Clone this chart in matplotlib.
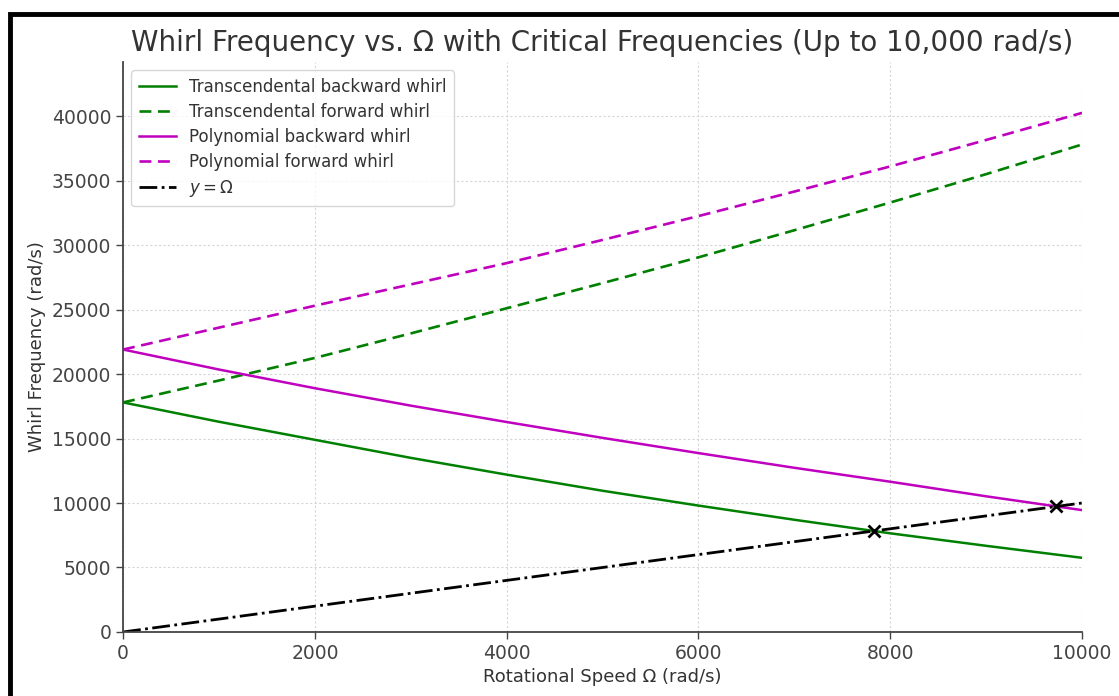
import matplotlib.pyplot as plt
from matplotlib.patches import Rectangle

# ============================================================
# Data
# ============================================================

omega = [0, 1000, 2000, 3000, 4000, 5000, 6000, 7000, 8000, 9000, 10000]

trans_backward = [17800, 16300, 14900, 13500, 12200, 10950, 9800, 8700, 7650, 6680, 5750]
trans_forward = [17800, 19500, 21250, 23150, 25100, 27050, 29050, 31150, 33300, 35500, 37800]
poly_backward = [21900, 20350, 18900, 17550, 16280, 15050, 13870, 12730, 11650, 10520, 9450]
poly_forward = [21900, 23600, 25300, 26950, 28600, 30400, 32250, 34150, 36100, 38150, 40250]

line_x = [0, 10000]
line_y = [0, 10000]

critical_omega = [7830, 9730]
critical_freq = [7830, 9730]

x_ticks = [0, 2000, 4000, 6000, 8000, 10000]
y_ticks = [0, 5000, 10000, 15000, 20000, 25000, 30000, 35000, 40000]

# ============================================================
# Figure
# ============================================================

text_color = "#333333"
plt.rcParams["text.color"] = text_color
plt.rcParams["axes.labelcolor"] = text_color
plt.rcParams["xtick.color"] = "#444444"
plt.rcParams["ytick.color"] = "#444444"

fig = plt.figure(figsize=(11.19, 6.96), dpi=100)
ax = fig.add_axes([0.110, 0.092, 0.857, 0.819])

ax.plot(omega, trans_backward, color="g", linestyle="-", linewidth=1.8,
        label="Transcendental backward whirl")
ax.plot(omega, trans_forward, color="g", linestyle=(0, (4.5, 2.5)), linewidth=1.9,
        label="Transcendental forward whirl")
ax.plot(omega, poly_backward, color="m", linestyle="-", linewidth=1.8,
        label="Polynomial backward whirl")
ax.plot(omega, poly_forward, color="m", linestyle=(0, (4.5, 2.5)), linewidth=1.9,
        label="Polynomial forward whirl")
ax.plot(line_x, line_y, color="k", linestyle="-.", linewidth=2,
        label=r"$y = \Omega$")
ax.plot(critical_omega, critical_freq, "kx", markersize=9, markeredgewidth=2)

ax.set_xlim(0, 10000)
ax.set_ylim(0, 44200)
ax.set_xticks(x_ticks)
ax.set_yticks(y_ticks)
ax.tick_params(labelsize=13.5, length=5, width=1)

ax.set_title("Whirl Frequency vs. Ω with Critical Frequencies (Up to 10,000 rad/s)",
             fontsize=20, pad=8)
ax.set_xlabel("Rotational Speed Ω (rad/s)", fontsize=13)
ax.set_ylabel("Whirl Frequency (rad/s)", fontsize=13)

ax.grid(True, linestyle=(0, (2, 2)), color="#d5d5d5", linewidth=0.8)
ax.set_axisbelow(True)

for side in ["top", "right"]:
    ax.spines[side].set_visible(False)
for side in ["left", "bottom"]:
    ax.spines[side].set_color("#444444")
    ax.spines[side].set_linewidth(1.3)

leg = ax.legend(loc="upper left", fontsize=12, frameon=True, borderpad=0.45,
                handlelength=2.2, labelspacing=0.42)
leg.get_frame().set_edgecolor("#cccccc")
for t in leg.get_texts():
    t.set_color(text_color)

# black frame from the screenshot
fig.patches.append(Rectangle((10 / 1119, -0.2), 1.5, 1.2 - 14 / 696,
                             transform=fig.transFigure, fill=False,
                             edgecolor="black", linewidth=3.5, zorder=10))

fig.savefig("out.png", dpi=100)
